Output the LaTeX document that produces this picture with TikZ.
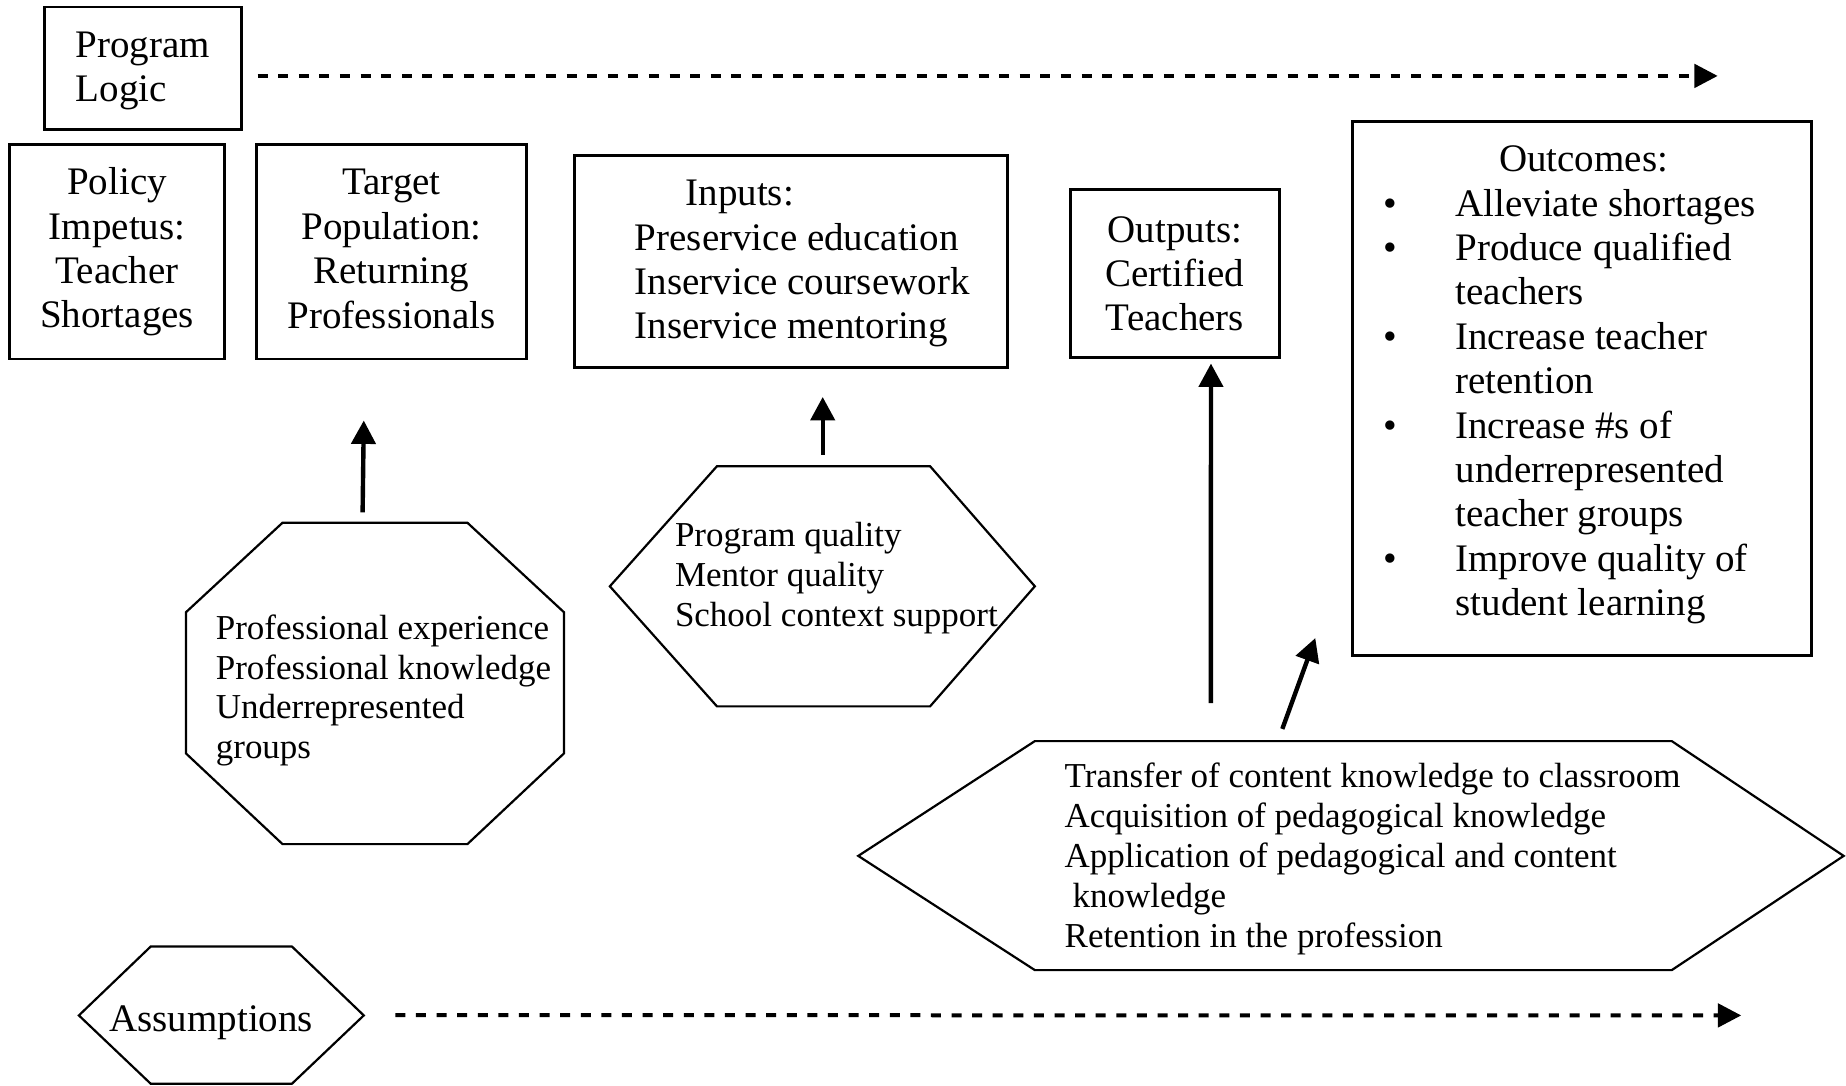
\documentclass[tikz,border=0pt]{standalone}
\usepackage{fontspec}
\setmainfont{Liberation Serif}
\usetikzlibrary{arrows.meta,fit,calc}
\newcommand\pxu{0.5887pt}
\newcommand\obul{\makebox[35.9pt][l]{\textbullet}}
\newcommand\oind{\hspace*{35.9pt}}
\begin{document}
\begin{tikzpicture}[x=0.5887pt, y=-0.5887pt,
  box/.style={draw, line width=1.4pt, inner sep=0pt},
  shp/.style={draw, line width=1.1pt, line join=miter},
  area/.style={inner sep=0pt},
  bigtxt/.style={font=\fontsize{19.5}{22.2}\selectfont, inner sep=0pt},
  smltxt/.style={font=\fontsize{17.5}{19.9}\selectfont, inner sep=0pt, align=left},
  arr/.style={line width=2.2pt, -{Triangle[length=11.7pt,width=12pt]}},
  dasharr/.style={line width=2pt, dash pattern=on 5pt off 5.3pt, -{Triangle[length=11.7pt,width=11.7pt]}},
]
\useasboundingbox (0,0) rectangle (1568,922);

% ---- rectangular boxes
\node[box, minimum width=167*\pxu, minimum height=104*\pxu] (logic) at (121.5,58) {};
\node[bigtxt, anchor=west, align=left] (logictxt) at (64,60.5) {Program\\Logic};

\node[box, bigtxt, align=center, minimum width=183*\pxu, minimum height=182*\pxu] (policy) at (99.5,214)
  {Policy\\Impetus:\\Teacher\\Shortages};
\node[box, minimum width=229*\pxu, minimum height=182*\pxu] (target) at (332.5,214) {};
\node[bigtxt, align=center] (targettxt) at (332.5,211.5)
  {Target\\Population:\\Returning\\Professionals};

\node[box, minimum width=368*\pxu, minimum height=180*\pxu] (inputs) at (672,222) {};
\node[bigtxt, anchor=west, align=left] (inputstxt) at (539,224)
  {\hspace*{25.3pt}Inputs:\\Preservice education\\Inservice coursework\\Inservice mentoring};

\node[box, bigtxt, align=center, minimum width=178*\pxu, minimum height=143*\pxu] (outputs) at (998,232.5)
  {Outputs:\\Certified\\Teachers};

\node[box, minimum width=390*\pxu, minimum height=454*\pxu] (outcomes) at (1344,330) {};
\node[bigtxt, anchor=west, align=left] (outcomestxt) at (1175,327)
  {\hspace*{57.7pt}Outcomes:\\
   \obul Alleviate shortages\\
   \obul Produce qualified\\
   \oind teachers\\
   \obul Increase teacher\\
   \oind retention\\
   \obul Increase \#s of\\
   \oind underrepresented\\
   \oind teacher groups\\
   \obul Improve quality of\\
   \oind student learning};

% ---- octagon
\coordinate (octa) at (158,444);
\coordinate (octb) at (479,717);
\node[area, fit=(octa)(octb)] (oct) {};
\draw[shp] (240,444) -- (397,444) -- (479,520) -- (479,640) -- (397,717) -- (240,717) -- (158,640) -- (158,520) -- cycle;
\node[smltxt, anchor=west] (octtxt) at (183,586.5)
  {Professional experience\\Professional knowledge\\Underrepresented\\groups};

% ---- middle hexagon
\coordinate (hma) at (518,396);
\coordinate (hmb) at (879,600);
\node[area, fit=(hma)(hmb)] (hexm) {};
\draw[shp] (609,396) -- (790,396) -- (879,498) -- (790,600) -- (609,600) -- (518,498) -- cycle;
\node[smltxt, anchor=west] (hexmtxt) at (573,491)
  {Program quality\\Mentor quality\\School context support};

% ---- big hexagon
\coordinate (hba) at (729,629.5);
\coordinate (hbb) at (1566,824);
\node[area, fit=(hba)(hbb)] (hexb) {};
\draw[shp] (879,629.5) -- (1420,629.5) -- (1566,727) -- (1420,824) -- (879,824) -- (729,727) -- cycle;
\node[smltxt, anchor=west] (hexbtxt) at (904,729.5)
  {Transfer of content knowledge to classroom\\Acquisition of pedagogical knowledge\\Application of pedagogical and content\\\hspace*{4pt}knowledge\\Retention in the profession};

% ---- assumptions hexagon
\coordinate (asa) at (67,804);
\coordinate (asb) at (309,920.5);
\node[area, fit=(asa)(asb)] (assump) {};
\draw[shp] (128,804) -- (248,804) -- (309,862.5) -- (248,920.5) -- (128,920.5) -- (67,862.5) -- cycle;
\node[bigtxt] (assumptxt) at (179.5,868.5) {Assumptions};

% ---- connectors
\coordinate (topend) at (1459,64.5);
\coordinate (botend) at (1479,862.5);
\draw[dasharr] ($(logic.east)+(12.6,6.5)$) -- (topend);
\draw[dasharr] ($(assump.east)+(26.5,0)$) -- (botend);

\draw[arr] ($(oct.north)+(-10.5,-8.5)$) -- ($(target.south)+(-23.5,51)$);
\draw[arr] ($(hexm.north)+(0.3,-9.5)$) -- ($(hexm.north |- inputs.south)+(0.3,24)$);
\draw[arr] ($(hexb.north)+(-119,-32)$) -- ($(outputs.south)+(30.6,3.6)$);
\draw[arr] ($(hexb.north)+(-58.3,-10)$) -- ($(outcomes.south west)+(-30.6,-16.2)$);
\end{tikzpicture}
\end{document}
